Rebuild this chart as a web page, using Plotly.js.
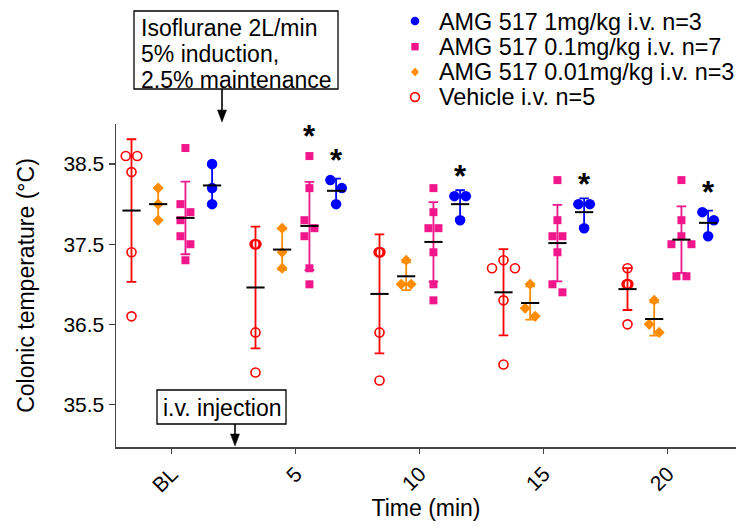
<!DOCTYPE html>
<html><head><meta charset="utf-8">
<script src="https://cdn.plot.ly/plotly-3.0.1.min.js"></script>
<style>html,body{margin:0;padding:0;background:#fff}#chart{width:736px;height:529px}</style>
</head><body><div id="chart"></div>
<script>
// ---- data ----
const categories = ['BL', '5', '10', '15', '20'];
const yTicks = [35.5, 36.5, 37.5, 38.5];

const vehicle = [
  [38.6, 38.6, 38.4, 37.4, 36.6],
  [37.5, 37.5, 37.5, 36.4, 35.9],
  [37.4, 37.4, 37.4, 36.4, 35.8],
  [37.3, 37.2, 37.2, 36.8, 36.0],
  [37.2, 37.0, 37.0, 37.0, 36.5]
];
const dose001 = [
  [38.2, 38.0, 37.8],
  [37.7, 37.4, 37.2],
  [37.3, 37.0, 37.0],
  [37.0, 36.7, 36.6],
  [36.8, 36.5, 36.4]
];
const dose01 = [
  [38.7, 38.0, 37.9, 37.8, 37.6, 37.5, 37.3],
  [38.6, 38.2, 37.8, 37.7, 37.6, 37.2, 37.0],
  [38.2, 37.9, 37.7, 37.7, 37.4, 37.0, 36.8],
  [38.3, 37.8, 37.6, 37.6, 37.4, 37.0, 36.9],
  [38.3, 37.8, 37.6, 37.5, 37.5, 37.1, 37.1]
];
const dose1 = [
  [38.5, 38.2, 38.0],
  [38.3, 38.2, 38.0],
  [38.1, 38.1, 37.8],
  [38.0, 38.0, 37.7],
  [37.9, 37.8, 37.6]
];
const sigDose01 = [false, true, false, false, false];
const sigDose1 = [false, true, true, true, true];

const legendNames = ['AMG 517 1mg/kg i.v. n=3', 'AMG 517 0.1mg/kg i.v. n=7',
                     'AMG 517 0.01mg/kg i.v. n=3', 'Vehicle i.v. n=5'];
const boxLines = ['Isoflurane 2L/min', '5% induction,', '2.5% maintenance'];
const injectionText = 'i.v. injection';

// ---- layout geometry ----
const FIG_W = 736, FIG_H = 529;
const M = {l: 116, r: 0, t: 124, b: 82};
const PW = FIG_W - M.l - M.r, PH = FIG_H - M.t - M.b;
const XR = [-0.45, 4.55], YR = [34.97, 39.0];
const PXX = PW / (XR[1] - XR[0]);
const PXY = PH / (YR[1] - YR[0]);
const px = v => (v - M.l) / PW;          // pixel x -> paper
const py = v => (M.t + PH - v) / PH;     // pixel y -> paper
const FONT = 'Liberation Sans, Arial, Helvetica, sans-serif';

const COLORS = {veh: '#FF0000', d001: '#FF8C00', d01: '#F0168C', d1: '#0000FF'};

const groups = [
  {name: legendNames[3], data: vehicle, color: COLORS.veh, symbol: 'circle-open', size: 9, lw: 1.6, off: -0.325, D: 11.5},
  {name: legendNames[2], data: dose001, color: COLORS.d001, symbol: 'diamond', size: 8.5, lw: 0, off: -0.11, D: 10},
  {name: legendNames[1], data: dose01, color: COLORS.d01, symbol: 'square', size: 8, lw: 0, off: 0.11, D: 10, sig: sigDose01},
  {name: legendNames[0], data: dose1, color: COLORS.d1, symbol: 'circle', size: 10.5, lw: 0, off: 0.325, D: 11.5, sig: sigDose1}
];

function mean(a) { return a.reduce((s, v) => s + v, 0) / a.length; }
function sd(a) { const m = mean(a); return Math.sqrt(a.reduce((s, v) => s + (v - m) * (v - m), 0) / (a.length - 1)); }

// deterministic beeswarm: returns horizontal offsets (data units)
function swarm(vals, D) {
  const counts = {};
  vals.forEach(v => counts[v] = (counts[v] || 0) + 1);
  const placed = [], out = [], seen = {};
  const step = D / 2;
  vals.forEach(v => {
    const y = v * PXY;
    let dx;
    if (counts[v] >= 3) {
      seen[v] = (seen[v] || 0) + 1;
      dx = [0, 0.9, -0.9, 1.8][seen[v] - 1] || 0;
    } else {
      const cands = [0];
      for (let k = 1; k < 10; k++) cands.push(k * step, -k * step);
      dx = cands.find(c => placed.every(p => Math.hypot(p.dx - c, p.y - y) >= D - 0.01));
    }
    placed.push({dx, y});
    out.push(dx);
  });
  // centre each vertically-touching cluster around the group position
  const order = vals.map((v, i) => i).sort((a, b) => vals[b] - vals[a]);
  let comp = [order[0]];
  const flush = () => {
    const xs = comp.map(i => out[i]);
    const c = (Math.min(...xs) + Math.max(...xs)) / 2;
    comp.forEach(i => out[i] -= c);
  };
  for (let k = 1; k < order.length; k++) {
    const i = order[k], j = order[k - 1];
    if ((vals[j] - vals[i]) * PXY < D - 0.01) comp.push(i);
    else { flush(); comp = [i]; }
  }
  flush();
  return out.map(d => d / PXX);
}

const pointTraces = [], summaryTraces = [], annotations = [], shapes = [];

groups.forEach(g => {
  const xs = [], ys = [];
  g.data.forEach((vals, ci) => {
    const offs = swarm(vals, g.D);
    vals.forEach((v, i) => { xs.push(ci + g.off + offs[i]); ys.push(v); });
  });
  pointTraces.push({
    type: 'scatter', mode: 'markers', name: g.name, x: xs, y: ys, showlegend: false,
    cliponaxis: false, hoverinfo: 'y',
    marker: {symbol: g.symbol, size: g.size, color: g.color, line: {width: g.lw, color: g.color}}
  });
  const mx = g.data.map((_, ci) => ci + g.off);
  const my = g.data.map(mean);
  const ms = g.data.map(sd);
  summaryTraces.push({
    type: 'scatter', mode: 'markers', name: g.name + ' mean ± SD', x: mx, y: my, showlegend: false,
    cliponaxis: false, hoverinfo: 'y',
    marker: {symbol: 'line-ew', size: 13, color: '#000', line: {width: 2, color: '#000'}},
    error_y: {type: 'data', array: ms, visible: true, color: g.color, thickness: 1.8, width: 4.8}
  });
  if (g.sig) {
    g.sig.forEach((s, ci) => {
      if (!s) return;
      annotations.push({
        xref: 'x', yref: 'y', x: ci + g.off, y: Math.max(...g.data[ci]), yshift: 20,
        text: '<b>*</b>', showarrow: false, xanchor: 'center', yanchor: 'middle',
        font: {family: FONT, size: 31, color: '#000'}
      });
    });
  }
});

// ---- annotation boxes ----
const BOX1 = {x0: 134, x1: 338, y0: 11, y1: 89};
shapes.push({type: 'rect', xref: 'paper', yref: 'paper', x0: px(BOX1.x0), x1: px(BOX1.x1), y0: py(BOX1.y1), y1: py(BOX1.y0),
  line: {color: '#000', width: 1.3}, fillcolor: '#fff', layer: 'above'});
const box1Y = [28.3, 54.2, 80];
boxLines.forEach((t, i) => annotations.push({
  xref: 'paper', yref: 'paper', x: px(139), y: py(box1Y[i]), xanchor: 'left', yanchor: 'middle',
  text: t, showarrow: false, font: {family: FONT, size: 23, color: '#000'}
}));
const BOX2 = {x0: 157, x1: 286, y0: 390, y1: 424};
shapes.push({type: 'rect', xref: 'paper', yref: 'paper', x0: px(BOX2.x0), x1: px(BOX2.x1), y0: py(BOX2.y1), y1: py(BOX2.y0),
  line: {color: '#000', width: 1.3}, fillcolor: '#fff', layer: 'above'});
annotations.push({
  xref: 'paper', yref: 'paper', x: px(161), y: py(408), xanchor: 'left', yanchor: 'middle',
  text: injectionText, showarrow: false, font: {family: FONT, size: 23, color: '#000'}
});

// arrows (line + narrow head)
function arrow(x, yTail, yHead) {
  const hl = 12, hw = 4.5;
  shapes.push({type: 'line', xref: 'paper', yref: 'paper', x0: px(x), x1: px(x), y0: py(yTail), y1: py(yHead - hl + 1),
    line: {color: '#000', width: 1.6}, layer: 'above'});
  shapes.push({type: 'path', xref: 'paper', yref: 'paper', layer: 'above',
    path: `M${px(x - hw)},${py(yHead - hl)} L${px(x + hw)},${py(yHead - hl)} L${px(x)},${py(yHead)} Z`,
    fillcolor: '#000', line: {color: '#000', width: 0.5}});
}
arrow(222, 89, 122);
arrow(235, 424, 446);

// ---- legend (manual, to match row spacing) ----
const rowY = [21, 46.7, 72, 97];
const legendColors = [COLORS.d1, COLORS.d01, COLORS.d001, COLORS.veh];
const LX = 415;
legendNames.forEach((n, i) => {
  annotations.push({xref: 'paper', yref: 'paper', x: px(437), y: py(rowY[i] + 0.5), xanchor: 'left', yanchor: 'middle',
    text: n, showarrow: false, font: {family: FONT, size: 23.4, color: '#000'}});
});
shapes.push({type: 'circle', xref: 'paper', yref: 'paper', x0: px(LX - 4.3), x1: px(LX + 4.3), y0: py(rowY[0] + 4.3), y1: py(rowY[0] - 4.3),
  fillcolor: legendColors[0], line: {width: 0}});
shapes.push({type: 'rect', xref: 'paper', yref: 'paper', x0: px(LX - 3.7), x1: px(LX + 3.7), y0: py(rowY[1] + 3.7), y1: py(rowY[1] - 3.7),
  fillcolor: legendColors[1], line: {width: 0}});
shapes.push({type: 'path', xref: 'paper', yref: 'paper',
  path: `M${px(LX)},${py(rowY[2] - 4.6)} L${px(LX + 3.9)},${py(rowY[2])} L${px(LX)},${py(rowY[2] + 4.6)} L${px(LX - 3.9)},${py(rowY[2])} Z`,
  fillcolor: legendColors[2], line: {width: 0}});
shapes.push({type: 'circle', xref: 'paper', yref: 'paper', x0: px(LX - 4.4), x1: px(LX + 4.4), y0: py(rowY[3] + 4.4), y1: py(rowY[3] - 4.4),
  fillcolor: 'rgba(0,0,0,0)', line: {width: 1.6, color: legendColors[3]}});

const layout = {
  width: FIG_W, height: FIG_H, margin: M,
  paper_bgcolor: '#fff', plot_bgcolor: '#fff', showlegend: false,
  font: {family: FONT, color: '#000'},
  xaxis: {
    range: XR, tickvals: categories.map((_, i) => i), ticktext: categories, tickangle: -45,
    ticks: 'outside', ticklen: 5, tickwidth: 1.3, tickcolor: '#444',
    showline: true, linecolor: '#444', linewidth: 1.5, showgrid: false, zeroline: false,
    tickfont: {family: FONT, size: 21, color: '#000'},
    title: {text: 'Time (min)', font: {family: FONT, size: 23, color: '#000'}, standoff: 3}
  },
  yaxis: {
    range: YR, tickvals: yTicks, ticktext: yTicks.map(v => v.toFixed(1)),
    ticks: 'outside', ticklen: 6, tickwidth: 1.3, tickcolor: '#444',
    showline: true, linecolor: '#444', linewidth: 1.5, showgrid: false, zeroline: false,
    tickfont: {family: FONT, size: 21, color: '#000'},
    title: {text: 'Colonic temperature (°C)', font: {family: FONT, size: 23, color: '#000'}, standoff: 22}
  },
  shapes, annotations
};

Plotly.newPlot('chart', pointTraces.concat(summaryTraces), layout, {displayModeBar: false, staticPlot: true});
</script></body></html>
